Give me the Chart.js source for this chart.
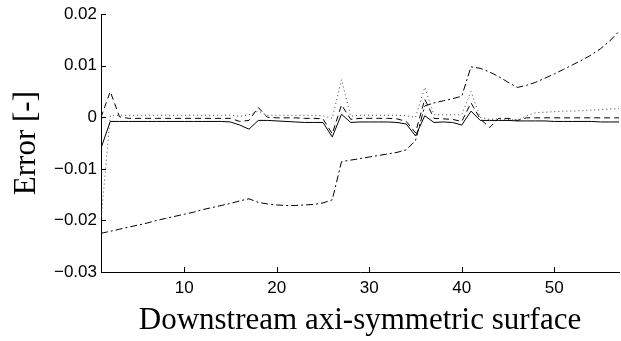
<!DOCTYPE html>
<html>
<head>
<meta charset="utf-8">
<script src="https://cdn.jsdelivr.net/npm/chart.js@4/dist/chart.umd.min.js"></script>
<style>
  html, body { margin: 0; padding: 0; background: #fff; }
  #wrap { width: 621px; height: 341px; }
</style>
</head>
<body>
<div id="wrap"><canvas id="c" width="621" height="341"></canvas></div>
<script>
// surface index 1..57
var surfaces = [];
for (var s = 1; s <= 57; s++) surfaces.push(s);

var solidErr = [
  -0.0060, -0.0008, -0.0008, -0.0008, -0.0008, -0.0008, -0.0008, -0.0008, -0.0008, -0.0008,
  -0.0008, -0.0008, -0.0008, -0.0008, -0.0009, -0.0015, -0.0023, -0.0006, -0.0006, -0.0007,
  -0.0008, -0.0009, -0.0010, -0.0010, -0.0010, -0.0038, 0.0006, -0.0010, -0.0009, -0.0009,
  -0.0009, -0.0009, -0.0010, -0.0013, -0.0036, 0.0003, -0.0010, -0.0009, -0.0010, -0.0015,
  0.0012, -0.0006, -0.0006, -0.0006, -0.0006, -0.0007, -0.0007, -0.0007, -0.0007, -0.0008,
  -0.0008, -0.0008, -0.0008, -0.0008, -0.0009, -0.0009, -0.0009
];
var dashedErr = [
  0.0000, 0.0050, 0.0001, -0.0002, -0.0002, -0.0002, -0.0002, -0.0002, -0.0002, -0.0002,
  -0.0002, -0.0002, -0.0002, -0.0002, -0.0002, -0.0008, -0.0006, 0.0019, 0.0000, -0.0001,
  -0.0001, -0.0001, -0.0002, -0.0002, -0.0003, -0.0032, 0.0024, -0.0004, -0.0002, -0.0002,
  -0.0002, -0.0002, -0.0003, -0.0008, -0.0030, 0.0035, -0.0002, -0.0003, -0.0004, -0.0008,
  0.0028, -0.0003, -0.0020, -0.0002, -0.0002, -0.0006, -0.0001, -0.0001, -0.0001, -0.0001,
  -0.0001, -0.0001, -0.0001, -0.0001, -0.0001, -0.0001, -0.0001
];
var dottedErr = [
  -0.0200, 0.0003, 0.0004, 0.0004, 0.0004, 0.0004, 0.0004, 0.0004, 0.0004, 0.0004,
  0.0004, 0.0004, 0.0004, 0.0004, 0.0004, 0.0002, 0.0005, 0.0012, 0.0004, 0.0004,
  0.0004, 0.0004, 0.0004, 0.0004, 0.0003, -0.0002, 0.0073, 0.0002, 0.0004, 0.0004,
  0.0004, 0.0004, 0.0004, 0.0003, 0.0000, 0.0058, 0.0005, 0.0005, 0.0005, 0.0005,
  0.0050, 0.0000, -0.0004, -0.0003, -0.0004, -0.0006, 0.0003, 0.0009, 0.0010, 0.0011,
  0.0012, 0.0012, 0.0013, 0.0014, 0.0015, 0.0016, 0.0017
];
var dashDotErr = [
  -0.0225, -0.0221, -0.0217, -0.0213, -0.0209, -0.0205, -0.0200, -0.0196, -0.0192, -0.0188,
  -0.0184, -0.0179, -0.0175, -0.0171, -0.0167, -0.0162, -0.0158, -0.0165, -0.0168, -0.0170,
  -0.0171, -0.0171, -0.0170, -0.0169, -0.0166, -0.0160, -0.0086, -0.0083, -0.0080, -0.0077,
  -0.0074, -0.0071, -0.0068, -0.0063, -0.0045, 0.0022, 0.0028, 0.0032, 0.0036, 0.0041,
  0.0098, 0.0095, 0.0088, 0.0079, 0.0068, 0.0058, 0.0062, 0.0068, 0.0076, 0.0084,
  0.0093, 0.0102, 0.0111, 0.0121, 0.0133, 0.0148, 0.0167
];

var xTicks = [10, 20, 30, 40, 50];
var yTicks = [-0.03, -0.02, -0.01, 0, 0.01, 0.02];
var yTickLabels = ['\u22120.03', '\u22120.02', '\u22120.01', '0', '0.01', '0.02'];

function pts(arr){
  return surfaces.map(function(x, i){ return {x: x, y: arr[i]}; });
}

// MATLAB style inward tick marks
var inwardTicks = {
  id: 'inwardTicks',
  afterDraw: function(chart){
    var ctx = chart.ctx, a = chart.chartArea;
    var xs = chart.scales.x, ys = chart.scales.y;
    ctx.save();
    ctx.strokeStyle = '#000';
    ctx.lineWidth = 1;
    ctx.beginPath();
    xs.ticks.forEach(function(t){
      var px = Math.round(xs.getPixelForValue(t.value)) + 0.5;
      ctx.moveTo(px, a.bottom); ctx.lineTo(px, a.bottom - 5);
    });
    ys.ticks.forEach(function(t){
      var py = Math.round(ys.getPixelForValue(t.value)) + 0.5;
      ctx.moveTo(a.left, py); ctx.lineTo(a.left + 5, py);
    });
    ctx.stroke();
    ctx.restore();
  }
};

var tickFont = {family: 'Liberation Sans, Arial, sans-serif', size: 17};
var titleFont = {family: 'Liberation Serif, Times New Roman, serif', size: 31};

var ctx = document.getElementById('c').getContext('2d');
var myChart = new Chart(ctx, {
  type: 'line',
  data: {
    datasets: [
      {data: pts(solidErr), borderColor: '#000', borderWidth: 1},
      {data: pts(dashedErr), borderColor: '#000', borderWidth: 1, borderDash: [6, 4]},
      {data: pts(dottedErr), borderColor: '#444', borderWidth: 1, borderDash: [1, 3]},
      {data: pts(dashDotErr), borderColor: '#000', borderWidth: 1, borderDash: [7, 3, 2, 3]}
    ]
  },
  options: {
    responsive: false,
    animation: false,
    events: [],
    elements: { point: { radius: 0 }, line: { tension: 0 } },
    layout: { padding: { top: 10, right: 2, bottom: 0, left: 0 } },
    plugins: { legend: { display: false }, tooltip: { enabled: false } },
    scales: {
      x: {
        type: 'linear',
        min: 1, max: 57,
        afterBuildTicks: function(sc){ sc.ticks = xTicks.map(function(v){ return {value: v}; }); },
        afterFit: function(sc){ sc.height = 69; },
        grid: { display: true, drawOnChartArea: false, drawTicks: false, color: '#000' },
        border: { display: true, color: '#000', width: 1 },
        ticks: { color: '#000', font: tickFont, padding: 6, maxRotation: 0,
                 callback: function(v){ return String(v); } },
        title: { display: true, text: 'Downstream axi-symmetric surface', color: '#000',
                 font: titleFont, padding: { top: 0, bottom: 2 } }
      },
      y: {
        min: -0.03, max: 0.02,
        afterBuildTicks: function(sc){ sc.ticks = yTicks.map(function(v){ return {value: v}; }); },
        afterFit: function(sc){ sc.width = 101; },
        grid: { display: true, drawOnChartArea: false, drawTicks: false, color: '#000' },
        border: { display: true, color: '#000', width: 1 },
        ticks: { color: '#000', font: tickFont, padding: 4,
                 callback: function(v, i){ return yTickLabels[i]; } },
        title: { display: true, text: 'Error [-]', color: '#000',
                 font: titleFont, padding: { top: 8, bottom: 0 } }
      }
    }
  },
  plugins: [inwardTicks]
});
</script>
</body>
</html>
